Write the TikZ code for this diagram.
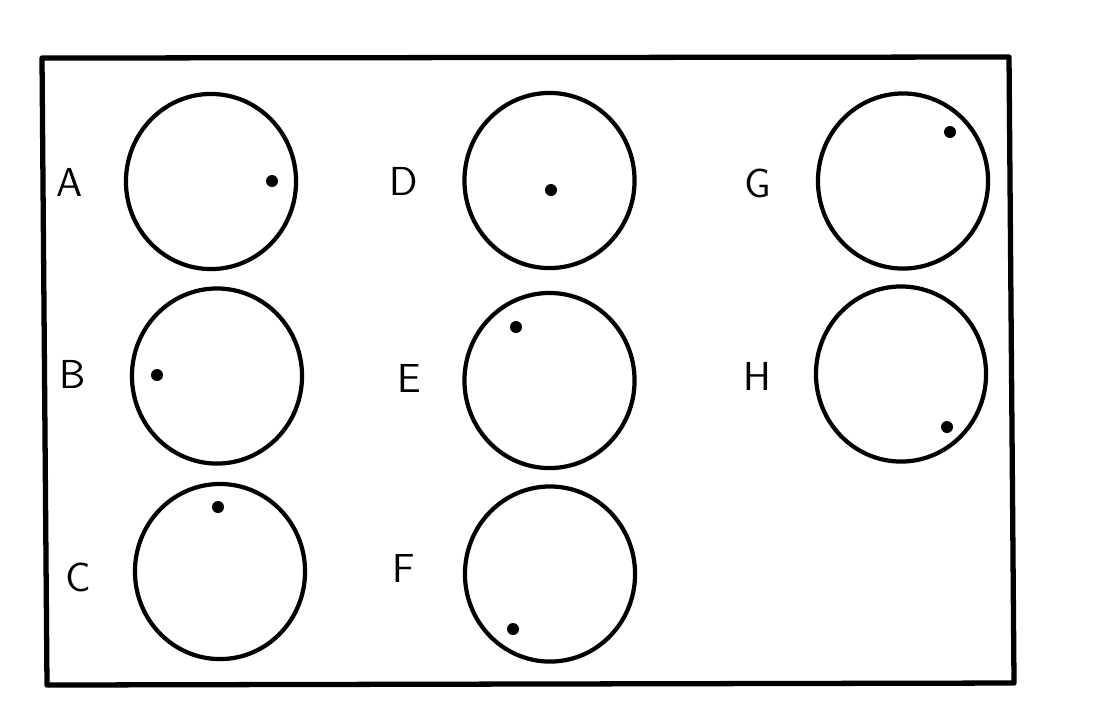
\documentclass[tikz,border=0pt]{standalone}
\usepackage{tikz}
\usetikzlibrary{shapes.geometric}
\tikzset{
  frm/.style={line width=1.5pt,line join=round},
  disc/.style={ellipse,draw=black,line width=1.2pt,inner sep=0pt,minimum width=1.70cm,minimum height=1.75cm},
  spot/.style={circle,fill=black,inner sep=0pt,minimum size=0.12cm},
  lbl/.style={font=\sffamily\fontsize{11.5}{12}\selectfont,inner sep=0pt},
}
\begin{document}
\begin{tikzpicture}[x=0.01cm,y=-0.01cm]
  \useasboundingbox (0,0) rectangle (1104,723);
  \draw[frm] (42,58) -- (1009,57) -- (1014,683) -- (47,685) -- cycle;
  % dials: name/centre/spot/label
  \foreach \nm/\cx/\cy/\dx/\dy/\lx/\ly in {A/211/181.5/272/181/70/182,
      B/217/376/157/375/73/374, C/220/571.5/218/507/78/577,
      D/549.5/180.5/551/190/404/181, E/549.5/380.5/516/327/409/378,
      F/550/574/513/629/404/568, G/903/181/950/132/758/183,
      H/901/374/947/427/757/376}{
    \node[disc] (c\nm) at (\cx,\cy) {};
    \node[spot] (s\nm) at (\dx,\dy) {};
    \node[lbl] (l\nm) at (\lx,\ly) {\nm};
  }
\end{tikzpicture}
\end{document}
